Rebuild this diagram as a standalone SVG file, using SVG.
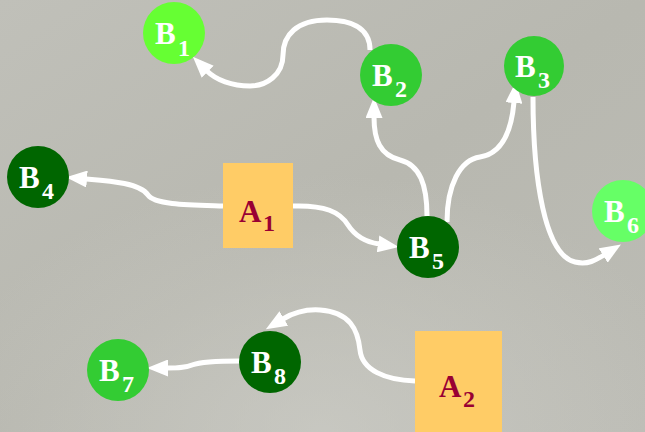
<svg xmlns="http://www.w3.org/2000/svg" width="645" height="432" viewBox="0 0 645 432">
<defs>
<linearGradient id="bg" x1="0" y1="0" x2="1" y2="1">
<stop offset="0" stop-color="#c0c0b9"/>
<stop offset="0.5" stop-color="#b8b8b0"/>
<stop offset="1" stop-color="#bcbcb5"/>
</linearGradient>
<radialGradient id="glow" cx="0.5" cy="1" r="0.6">
<stop offset="0" stop-color="#d0d0ca" stop-opacity="0.6"/>
<stop offset="1" stop-color="#d0d0ca" stop-opacity="0"/>
</radialGradient>
<marker id="arr" viewBox="0 0 21 17" refX="1" refY="8.5" markerWidth="21" markerHeight="17" markerUnits="userSpaceOnUse" orient="auto">
<path d="M0,0 L21,8.5 L0,17 z" fill="#ffffff"/>
</marker>
<style>
.conn{fill:none;stroke:#ffffff;stroke-width:5;marker-end:url(#arr)}
.lbl{font-family:"Liberation Serif","Times New Roman",serif;font-weight:bold;font-size:31px;fill:#ffffff}
.sub{font-size:24px}
.abox{fill:#ffcc66}
.alb{font-family:"Liberation Serif","Times New Roman",serif;font-weight:bold;font-size:31px;fill:#990033}
</style>
</defs>
<rect x="0" y="0" width="645" height="432" fill="url(#bg)"/>
<rect x="0" y="0" width="645" height="432" fill="url(#glow)"/>
<g id="connectors">
<path class="conn" d="M370,50 C370,26 348,20 327,20 C297,20 283,35 283,55 C283,75 266,86 250,86 C232,86 216,80 207,71"/>
<path class="conn" d="M427,216 C427,185 420,165 400,160 C380,155 374,140 374,117"/>
<path class="conn" d="M447,222 C447,185 460,160 480,157 C505,153 512,125 514,102"/>
<path class="conn" d="M533,97 C533,180 545,255 575,262 C588,265 596,260 604,255"/>
<path class="conn" d="M223,206 C190,205 155,205 148,195 C140,183 110,181 86,179"/>
<path class="conn" d="M293,206 C325,205 340,212 348,225 C355,236 366,242 379,244"/>
<path class="conn" d="M415,381 C385,380 362,370 360,350 C358,330 350,312 320,310 C305,309 293,313 283,319"/>
<path class="conn" d="M240,361 C215,361 200,362 192,365 C185,368 178,368 167,368"/>
</g>
<g id="B1"><circle cx="174" cy="33" r="31" fill="#66ff33"/><text class="lbl" x="155" y="44">B<tspan class="sub" x="178" y="56">1</tspan></text></g>
<g id="B2"><circle cx="391" cy="75" r="31" fill="#33cc33"/><text class="lbl" x="372" y="86">B<tspan class="sub" x="395" y="97">2</tspan></text></g>
<g id="B3"><circle cx="534" cy="66" r="30" fill="#33cc33"/><text class="lbl" x="515" y="77">B<tspan class="sub" x="538" y="88">3</tspan></text></g>
<g id="B4"><circle cx="38" cy="177" r="31" fill="#006600"/><text class="lbl" x="19" y="188">B<tspan class="sub" x="42" y="199">4</tspan></text></g>
<g id="B5"><circle cx="428" cy="247" r="31" fill="#006600"/><text class="lbl" x="409" y="258">B<tspan class="sub" x="432" y="269">5</tspan></text></g>
<g id="B6"><circle cx="623" cy="211" r="31" fill="#66ff66"/><text class="lbl" x="604" y="222">B<tspan class="sub" x="627" y="233">6</tspan></text></g>
<g id="B7"><circle cx="118" cy="370" r="31" fill="#33cc33"/><text class="lbl" x="99" y="381">B<tspan class="sub" x="122" y="392">7</tspan></text></g>
<g id="B8"><circle cx="270" cy="362" r="31" fill="#006600"/><text class="lbl" x="251" y="373">B<tspan class="sub" x="274" y="384">8</tspan></text></g>
<g id="A1"><rect class="abox" x="223" y="163" width="70" height="85"/><text class="alb" x="239" y="222">A<tspan class="sub" x="263" y="231">1</tspan></text></g>
<g id="A2"><rect class="abox" x="415" y="331" width="87" height="101"/><text class="alb" x="439" y="397">A<tspan class="sub" x="463" y="407">2</tspan></text></g>
</svg>
